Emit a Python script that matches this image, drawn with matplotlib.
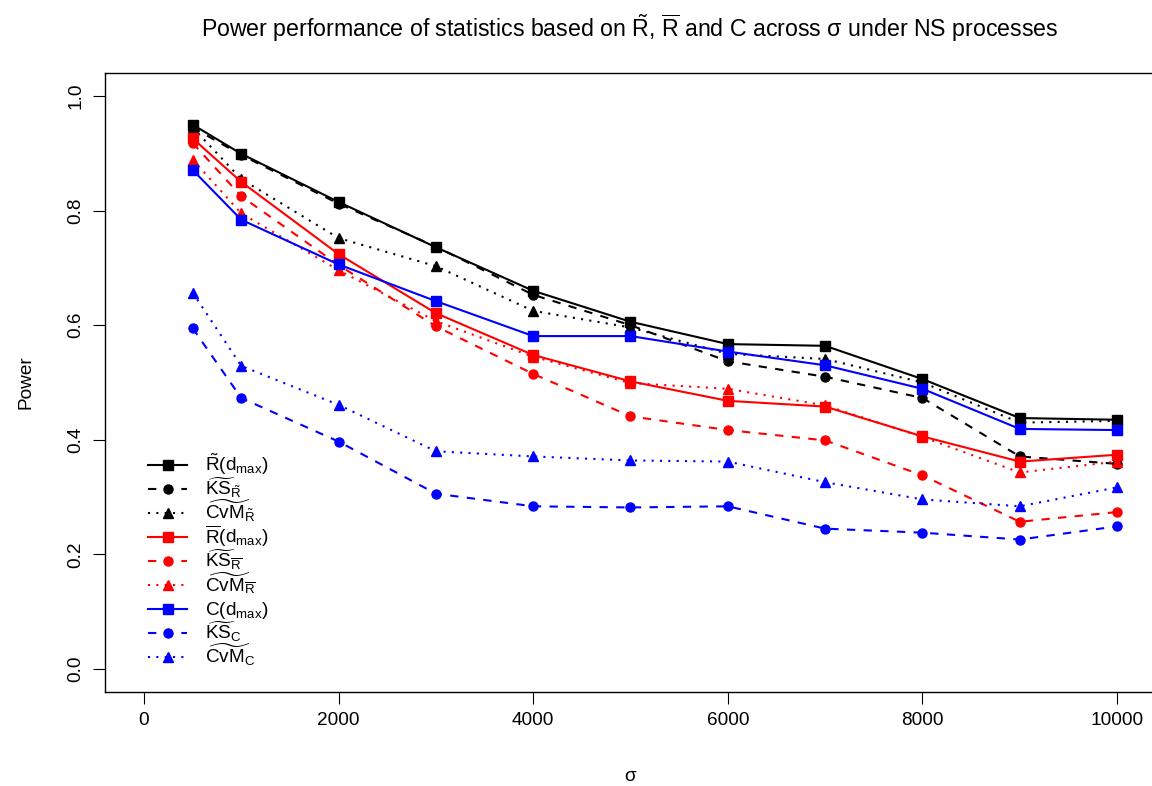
import matplotlib
matplotlib.use("Agg")
import matplotlib.pyplot as plt
from matplotlib.lines import Line2D
import numpy as np

plt.rcParams['font.family'] = ['Liberation Sans', 'DejaVu Sans']
plt.rcParams['mathtext.fontset'] = 'custom'
plt.rcParams['mathtext.rm'] = 'Liberation Sans'
plt.rcParams['mathtext.it'] = 'Liberation Sans:italic'
plt.rcParams['mathtext.bf'] = 'Liberation Sans:bold'

sigma = [500, 1000, 2000, 3000, 4000, 5000, 6000, 7000, 8000, 9000, 10000]

# R tilde based statistics
r_tilde_dmax = [0.950, 0.899, 0.815, 0.736, 0.660, 0.606, 0.567, 0.564, 0.506, 0.438, 0.435]
ks_r_tilde = [0.945, 0.897, 0.812, 0.737, 0.653, 0.600, 0.537, 0.510, 0.473, 0.371, 0.358]
cvm_r_tilde = [0.945, 0.855, 0.752, 0.703, 0.625, 0.596, 0.550, 0.541, 0.500, 0.430, 0.433]

# R bar based statistics
r_bar_dmax = [0.926, 0.850, 0.724, 0.621, 0.548, 0.502, 0.468, 0.458, 0.406, 0.362, 0.374]
ks_r_bar = [0.918, 0.825, 0.705, 0.598, 0.515, 0.441, 0.417, 0.399, 0.338, 0.257, 0.274]
cvm_r_bar = [0.889, 0.795, 0.696, 0.607, 0.545, 0.499, 0.489, 0.460, 0.405, 0.343, 0.362]

# C based statistics
c_dmax = [0.871, 0.784, 0.706, 0.642, 0.581, 0.581, 0.554, 0.530, 0.489, 0.419, 0.417]
ks_c = [0.595, 0.473, 0.397, 0.306, 0.284, 0.282, 0.284, 0.245, 0.238, 0.226, 0.249]
cvm_c = [0.657, 0.529, 0.461, 0.380, 0.371, 0.364, 0.362, 0.326, 0.296, 0.284, 0.317]

labels = [
    r'$\tilde{\mathrm{R}}(\mathrm{d}_{\mathrm{max}})$',
    r'$\widetilde{\mathrm{KS}}_{\tilde{\mathrm{R}}}$',
    r'$\widetilde{\mathrm{CvM}}_{\tilde{\mathrm{R}}}$',
    r'$\overline{\mathrm{R}}(\mathrm{d}_{\mathrm{max}})$',
    r'$\widetilde{\mathrm{KS}}_{\overline{\mathrm{R}}}$',
    r'$\widetilde{\mathrm{CvM}}_{\overline{\mathrm{R}}}$',
    r'$\mathrm{C}(\mathrm{d}_{\mathrm{max}})$',
    r'$\widetilde{\mathrm{KS}}_{\mathrm{C}}$',
    r'$\widetilde{\mathrm{CvM}}_{\mathrm{C}}$',
]

series = [r_tilde_dmax, ks_r_tilde, cvm_r_tilde,
          r_bar_dmax, ks_r_bar, cvm_r_bar,
          c_dmax, ks_c, cvm_c]
colors = ['black'] * 3 + ['#ff0000'] * 3 + ['#0000ff'] * 3
styles = ['-', (0, (4, 4)), (0, (1, 3))] * 3
markers = ['s', 'o', '^'] * 3
msizes = [6.5, 6.5, 7.5] * 3

W, H = 1152, 786
fig = plt.figure(figsize=(W / 100, H / 100), dpi=100)
ax = fig.add_axes([105 / W, 94 / H, 1051 / W, 619 / H])

for y, c, ls, m, ms, lab in zip(series, colors, styles, markers, msizes, labels):
    ax.plot(sigma, y, color=c, linestyle=ls, marker=m, markersize=ms,
            linewidth=1.5, dash_capstyle='butt', label=lab)

ax.set_xlim(-400, 10400)
ax.set_ylim(-0.04, 1.04)
ax.set_xticks([0, 2000, 4000, 6000, 8000, 10000])
ax.set_yticks([0.0, 0.2, 0.4, 0.6, 0.8, 1.0])
ax.set_yticklabels(['0.0', '0.2', '0.4', '0.6', '0.8', '1.0'], rotation=90, va='center')
ax.tick_params(length=8.6, width=0.8, labelsize=13.7, pad=6)
for s in ax.spines.values():
    s.set_linewidth(1.0)

ax.set_xlabel('σ', fontsize=13.7, labelpad=28)
ax.set_ylabel('Power', fontsize=13.7, labelpad=24)

fig.text(630 / W, 1 - 28 / H,
         r'Power performance of statistics based on $\tilde{\mathrm{R}}$, $\overline{\mathrm{R}}$ and C across σ under NS processes',
         ha='center', va='center', fontsize=16.7)

# legend without box, rows spaced evenly like R's legend()
for i, (c, ls, m, ms, lab) in enumerate(zip(colors, styles, markers, msizes, labels)):
    yrow = 1 - (465 + 24 * i) / H
    fig.add_artist(Line2D([148 / W, 187 / W], [yrow, yrow], transform=fig.transFigure,
                          color=c, linestyle=ls, linewidth=1.5, dash_capstyle='butt'))
    fig.add_artist(Line2D([167.5 / W], [yrow], transform=fig.transFigure,
                          color=c, marker=m, markersize=ms, linestyle='none'))
    fig.text(205 / W, yrow - 6 / H, lab, fontsize=13.7, ha='left', va='baseline')

fig.savefig('out.png', dpi=100)
